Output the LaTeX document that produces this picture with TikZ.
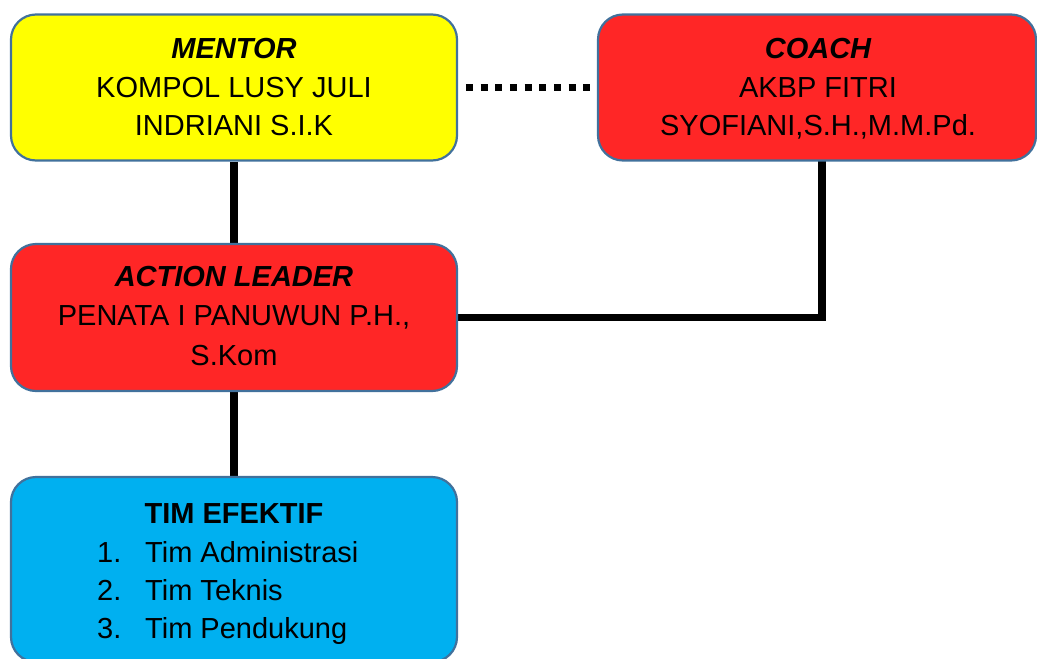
\documentclass[tikz,border=0pt]{standalone}
\usepackage{fontspec}
\setmainfont{Liberation Sans}
\definecolor{boxedge}{RGB}{65,113,156}
\definecolor{mentorfill}{RGB}{255,255,0}
\definecolor{redfill}{RGB}{255,38,38}
\definecolor{teamfill}{RGB}{0,176,240}
\pgfdeclarelayer{bg}
\pgfsetlayers{bg,main}
\begin{document}
\begin{tikzpicture}[x=1pt,y=-1pt,
  box/.style={draw=boxedge, line width=2.2pt, rounded corners=25pt,
    minimum width=446pt, minimum height=146pt, inner sep=0pt},
  txt/.style={anchor=base, inner sep=0pt, font=\fontsize{29}{35}\selectfont},
  head/.style={anchor=base, inner sep=0pt, font=\fontsize{29}{35}\selectfont\bfseries\itshape},
  bold/.style={anchor=base, inner sep=0pt, font=\fontsize{29}{35}\selectfont\bfseries},
  item/.style={anchor=base west, inner sep=0pt, font=\fontsize{29}{35}\selectfont},
  link/.style={line width=7.5pt, black},
  dots/.style={line width=7.5pt, black, dash pattern=on 7pt off 7.7pt, dash phase=7pt},
]
\useasboundingbox (0,0) rectangle (1037,659);

% boxes
\node[box, fill=mentorfill] (mentor) at (234,87.5) {};
\node[box, fill=redfill, minimum width=438pt] (coach) at (817,87.5) {};
\node[box, fill=redfill, minimum height=147pt] (action) at (234,317.5) {};
\node[box, fill=teamfill, minimum height=185pt] (team) at (234,569.5) {};

% connectors, kept behind the boxes
\coordinate (cturn) at (822,160);
\begin{pgfonlayer}{bg}
  \draw[link] (mentor.south) -- (action.north);
  \draw[link] (action.south) -- (team.north);
  \draw[link, line join=miter] (action.east) -| (cturn);
  \draw[dots] (mentor.east) -- (coach.west);
\end{pgfonlayer}

% mentor
\node[head] (mt1) at (234,58) {MENTOR};
\node[txt] (mt2) at (234,97) {KOMPOL LUSY JULI};
\node[txt] (mt3) at (234,135) {INDRIANI S.I.K};

% coach
\node[head] (ct1) at (818,58) {COACH};
\node[txt] (ct2) at (818,97) {AKBP FITRI};
\node[txt] (ct3) at (818,135) {SYOFIANI,S.H.,M.M.Pd.};

% action leader
\node[head] (at1) at (234,286) {ACTION LEADER};
\node[txt] (at2) at (234,325) {PENATA I PANUWUN P.H.,};
\node[txt] (at3) at (234,365) {S.Kom};

% team
\node[bold] (tt1) at (234,523) {TIM EFEKTIF};
\node[item] (n1) at (97,562) {1.};
\node[item] (i1) at (145,562) {Tim Administrasi};
\node[item] (n2) at (97,600) {2.};
\node[item] (i2) at (145,600) {Tim Teknis};
\node[item] (n3) at (97,638) {3.};
\node[item] (i3) at (145,638) {Tim Pendukung};
\end{tikzpicture}
\end{document}
